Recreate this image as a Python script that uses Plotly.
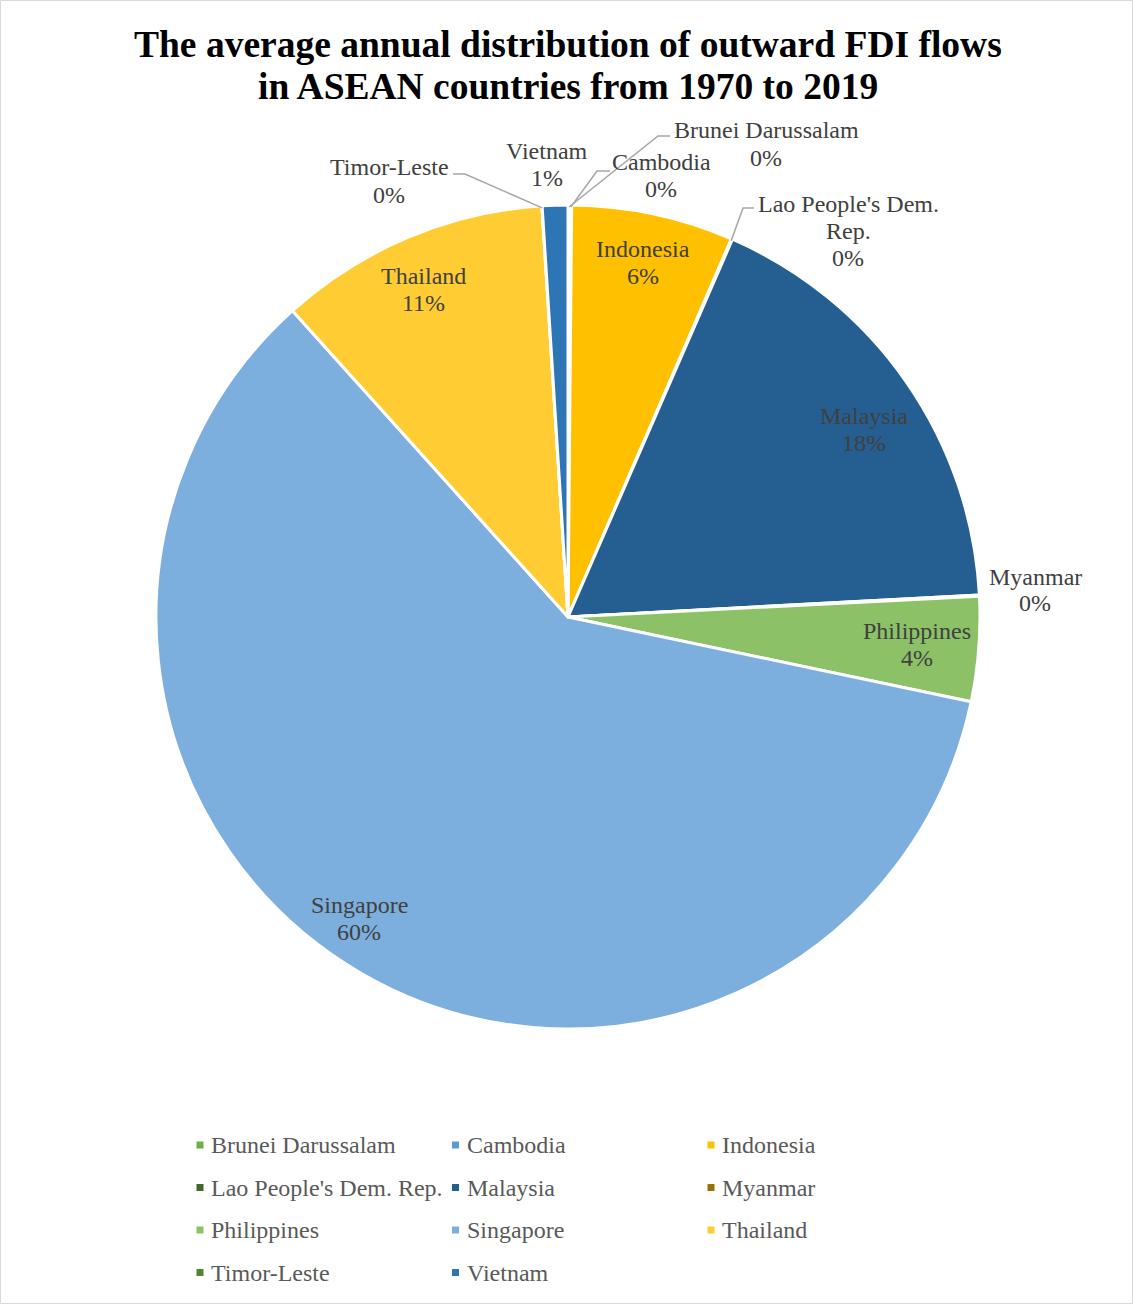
import math
import plotly.graph_objects as go

# ---- data: average annual share of ASEAN outward FDI flows, 1970-2019 (%) ----
countries = [
    "Brunei Darussalam", "Cambodia", "Indonesia", "Lao People's Dem. Rep.",
    "Malaysia", "Myanmar", "Philippines", "Singapore", "Thailand",
    "Timor-Leste", "Vietnam",
]
shares = [0.08, 0.06, 6.35, 0.04, 17.6, 0.05, 4.1, 60.0, 10.64, 0.01, 1.0]
colors = [
    "#70AD47", "#5B9BD5", "#FFC000", "#43682B", "#255E91", "#997300",
    "#8CC168", "#7CAFDD", "#FFCD33", "#548235", "#2E75B6",
]
title_lines = [
    "The average annual distribution of outward FDI flows",
    "in ASEAN countries from 1970 to 2019",
]

# ---- canvas geometry (pixels) ----
W, H = 1134, 1305
CX, CY, R = 568, 617, 412
SERIF = "Liberation Serif, Times New Roman, serif"
LABEL_COLOR = "#404040"
LEADER_COLOR = "#A6A6A6"
LABEL_SIZE = 24
LABEL_LINE = 27


def px(x):
    return x / W


def py(y):
    return 1 - y / H


total = sum(shares)
pct = [round(v / total * 100) for v in shares]

# slice mid-angles, clockwise from 12 o'clock
mid_deg = []
acc = 0.0
for v in shares:
    mid_deg.append((acc + v / 2) / total * 360)
    acc += v


def polar(angle_deg, radius):
    a = math.radians(angle_deg)
    return CX + radius * math.sin(a), CY - radius * math.cos(a)


fig = go.Figure(
    go.Pie(
        labels=countries,
        values=shares,
        sort=False,
        direction="clockwise",
        rotation=0,
        marker=dict(colors=colors, line=dict(color="white", width=3)),
        textinfo="none",
        hoverinfo="label+percent",
        showlegend=False,
        domain=dict(x=[px(CX - R), px(CX + R)], y=[py(CY + R), py(CY - R)]),
    )
)

annotations = []
shapes = []

# labels placed inside the larger slices: (radius factor, angle nudge in degrees)
inside = {
    "Indonesia": (0.88, 0.0),
    "Malaysia": (0.85, 2.4),
    "Philippines": (0.85, 0.0),
    "Singapore": (0.89, 4.7),
    "Thailand": (0.87, -1.0),
}
# labels outside the thin slices: label centre and leader-line elbow / end
outside = {
    "Brunei Darussalam": ((766, 144), [(658, 136), (670, 136)]),
    "Cambodia": ((661, 176), [(597, 171), (610, 171)]),
    "Lao People's Dem. Rep.": ((848, 231), [(743, 208), (754, 208)]),
    "Myanmar": ((1035, 590), []),
    "Timor-Leste": ((389, 181), [(465, 174), (453, 174)]),
    "Vietnam": ((547, 164), []),
}
label_lines = {"Lao People's Dem. Rep.": ["Lao People's Dem.", "Rep."]}


def add_label(lines, cx, cy):
    # one annotation per text line keeps the line pitch tight
    n = len(lines)
    for k, line in enumerate(lines):
        yy = cy + (k - (n - 1) / 2) * LABEL_LINE
        annotations.append(dict(
            x=px(cx), y=py(yy), xref="paper", yref="paper", text=line,
            showarrow=False, xanchor="center", yanchor="middle",
            font=dict(family=SERIF, size=LABEL_SIZE, color=LABEL_COLOR),
        ))


for i, name in enumerate(countries):
    lines = label_lines.get(name, [name]) + [f"{pct[i]}%"]
    if name in inside:
        rf, nudge = inside[name]
        lx, ly = polar(mid_deg[i] + nudge, R * rf)
        add_label(lines, lx, ly)
    else:
        (lx, ly), path = outside[name]
        add_label(lines, lx, ly)
        if path:
            pts = [polar(mid_deg[i], R - 2)] + path
            d = "M " + " L ".join(f"{px(x)},{py(y)}" for x, y in pts)
            shapes.append(dict(
                type="path", xref="paper", yref="paper", path=d,
                line=dict(color=LEADER_COLOR, width=1.5),
            ))

# title
for k, line in enumerate(title_lines):
    annotations.append(dict(
        x=px(568), y=py(44 + 42 * k), xref="paper", yref="paper", text=f"<b>{line}</b>",
        showarrow=False, xanchor="center", yanchor="middle",
        font=dict(family=SERIF, size=37.5, color="#000000"),
    ))

# legend grid: three columns, rows top to bottom
col_x = [200, 455.5, 711]
row_y0, row_dy = 1145, 42.5
sq = 3.5
for i, name in enumerate(countries):
    cx = col_x[i % 3]
    cy = row_y0 + row_dy * (i // 3)
    shapes.append(dict(
        type="rect", xref="paper", yref="paper",
        x0=px(cx - sq), x1=px(cx + sq), y0=py(cy + sq), y1=py(cy - sq),
        fillcolor=colors[i], line=dict(width=0),
    ))
    annotations.append(dict(
        x=px(cx + 9), y=py(cy), xref="paper", yref="paper", text=name,
        showarrow=False, xanchor="left", yanchor="middle",
        font=dict(family=SERIF, size=24, color="#595959"),
    ))

# outer frame
shapes.append(dict(
    type="rect", xref="paper", yref="paper",
    x0=px(0.5), x1=px(W - 1.5), y0=py(H - 1.5), y1=py(0.5),
    line=dict(color="#D9D9D9", width=1), fillcolor="rgba(0,0,0,0)",
))

fig.update_layout(
    width=W, height=H,
    margin=dict(l=0, r=0, t=0, b=0),
    paper_bgcolor="white", plot_bgcolor="white",
    annotations=annotations, shapes=shapes,
    showlegend=False,
)

fig.write_html("out.html")
